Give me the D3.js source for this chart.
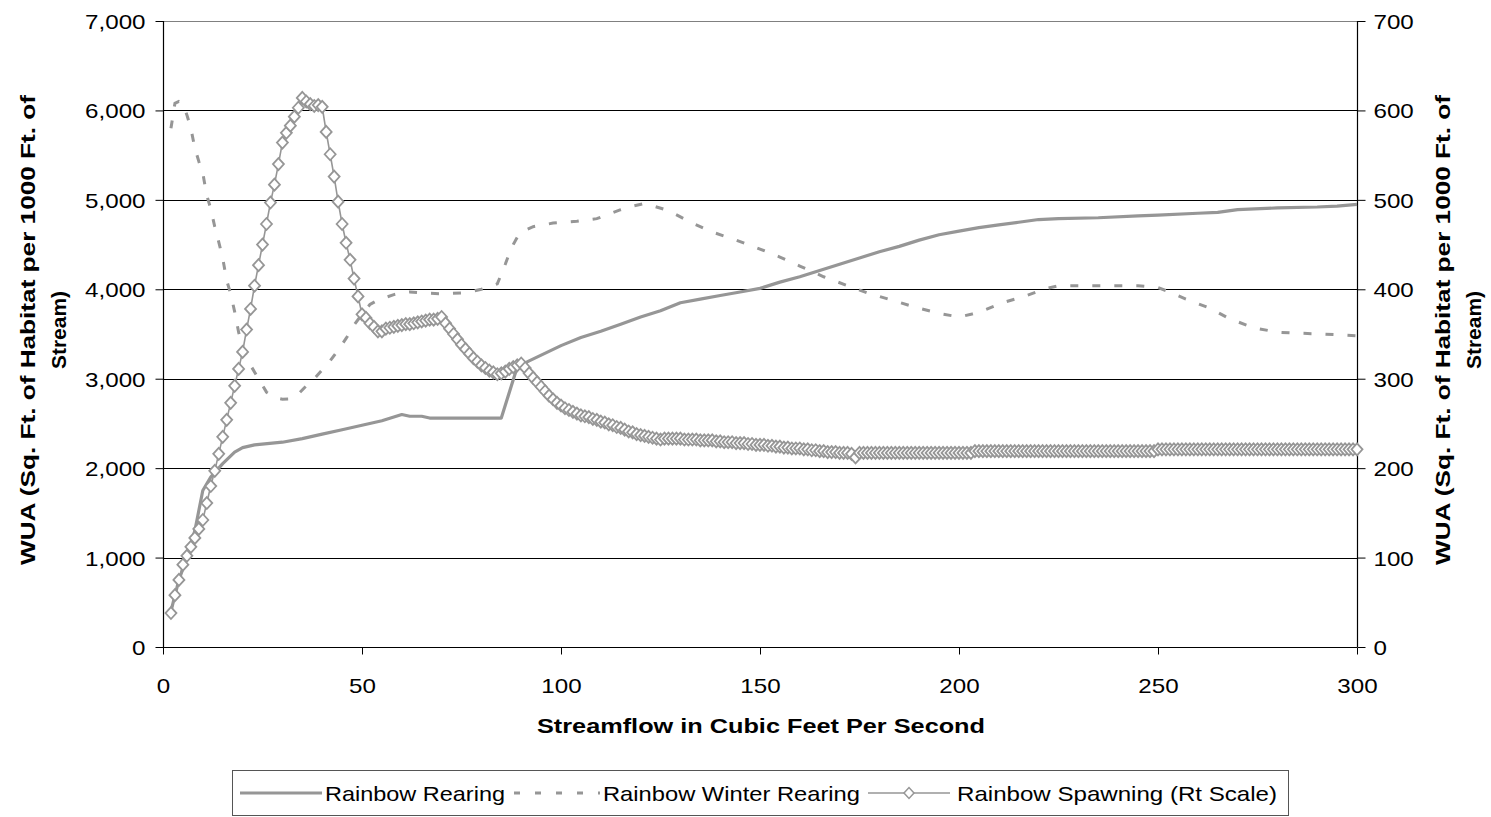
<!DOCTYPE html>
<html><head><meta charset="utf-8">
<script src="https://cdn.jsdelivr.net/npm/d3@7"></script>
<style>
body{margin:0;background:#fff}
svg{display:block}
text{font-family:"Liberation Sans",Arial,sans-serif;fill:#000}
</style>
</head><body>
<svg id="chart" width="1491" height="817"></svg>
<script>
// ---------- data ----------
const flowTicks = [0, 50, 100, 150, 200, 250, 300];
const leftTicks = [0, 1000, 2000, 3000, 4000, 5000, 6000, 7000];
const rightTicks = [0, 100, 200, 300, 400, 500, 600, 700];

const rearingFlow = [2,4,6,8,10,12,15,18,20,23,30,35,40,45,50,55,60,62,65,67,85,89,92,100,105,110,115,120,125,130,135,140,145,150,155,160,165,170,175,180,185,190,195,200,205,210,215,220,225,235,245,250,260,265,270,280,290,295,300];
const rearingWUA  = [400,750,1000,1300,1750,1900,2050,2180,2230,2260,2290,2330,2380,2430,2480,2530,2600,2580,2580,2560,2560,3130,3200,3370,3460,3530,3610,3690,3760,3850,3890,3930,3970,4010,4080,4140,4210,4280,4350,4420,4480,4550,4610,4650,4690,4720,4750,4780,4790,4800,4820,4830,4850,4860,4890,4910,4920,4930,4950];

const winterFlow = [2,3,4,5,6,7,8,9,10,11,12,13,14,15,16,17,18,19,20,22,24,26,28,30,32,34,36,38,40,42,44,46,48,50,52,54,56,58,60,62,65,70,75,78,80,82,84,86,87,88,89,90,93,98,104,109,112,115,118,121,124,127,130,133,138,144,150,155,160,166,172,177,183,189,195,200,203,206,211,217,222,225,235,245,250,254,257,263,268,274,280,285,291,296,300];
const winterWUA  = [5800,6080,6100,6080,5950,5800,5580,5430,5300,5050,4900,4700,4530,4350,4100,3950,3750,3520,3350,3150,3000,2850,2790,2770,2775,2830,2920,3000,3100,3200,3320,3450,3600,3720,3830,3880,3910,3940,3960,3970,3960,3950,3960,3980,4000,4030,4060,4280,4400,4500,4580,4640,4700,4740,4760,4790,4840,4890,4930,4960,4920,4880,4810,4740,4640,4550,4450,4360,4260,4140,4040,3960,3880,3800,3730,3690,3720,3760,3850,3930,4010,4040,4040,4040,4020,3950,3890,3790,3670,3570,3520,3510,3500,3490,3480];

// Rainbow Spawning (right scale), one value per cfs from 2 to 300
const spawnFlow = d3.range(2, 301);
const spawnWUA = [
 38,58,75,92,102,112,122,132,142,161,
 180,197,216,235,254,273,292,311,330,355,
 378,404,427,450,473,497,517,540,564,575,
 583,593,603,614,610,607,605,606,604,576,
 551,526,498,473,452,433,412,392,372,368,
 362,358,353,353,356,357,358,359,360,361,
 361,362,363,364,365,366,366,367,369,362,
 356,350,344,338,333,328,323,319,315,312,
 309,307,305,306,308,311,313,315,317,312,
 306,301,296,291,286,281,277,273,270,267,
 265,263,261,259,258,257,255,254,252,251,
 249,248,246,245,243,241,240,238,237,236,
 235,234,233,232,233,233,233,233,233,232,
 232,232,232,231,231,231,231,230,230,229,
 229,229,228,228,228,227,227,226,226,226,
 225,225,224,224,223,223,222,222,222,221,
 221,220,220,219,219,218,218,218,217,217,
 217,216,212,217,217,217,217,217,217,217,
 217,217,217,217,217,217,217,217,217,217,
 217,217,217,217,217,217,217,217,217,217,
 217,217,219,219,219,219,219,219,219,219,
 219,219,219,219,219,219,219,219,219,219,
 219,219,219,219,219,219,219,219,219,219,
 219,219,219,219,219,219,219,219,219,219,
 219,219,219,219,219,219,219,219,221,221,
 221,221,221,221,221,221,221,221,221,221,
 221,221,221,221,221,221,221,221,221,221,
 221,221,221,221,221,221,221,221,221,221,
 221,221,221,221,221,221,221,221,221,221,
 221,221,221,221,221,221,221,221,221
];

const seriesNames = ["Rainbow Rearing", "Rainbow Winter Rearing", "Rainbow Spawning (Rt Scale)"];
const xTitle = "Streamflow in Cubic Feet Per Second";
const yTitleLines = ["WUA (Sq. Ft. of Habitat per 1000 Ft. of", "Stream)"];

// ---------- layout ----------
const svg = d3.select("#chart");
const L = 163, R = 1357, T = 21, B = 647;
const gray = "#969696";
const SX = 1.15;
const FS = 21;

const x = d3.scaleLinear().domain([0, 300]).range([L, R]);
const yL = d3.scaleLinear().domain([0, 7000]).range([B, T]);
const yR = d3.scaleLinear().domain([0, 700]).range([B, T]);

// gridlines
svg.append("g").selectAll("line").data(leftTicks.filter(d => d > 0 && d < 7000)).join("line")
  .attr("x1", L).attr("x2", R)
  .attr("y1", d => Math.round(yL(d)) + 0.5).attr("y2", d => Math.round(yL(d)) + 0.5)
  .attr("stroke", "#000").attr("stroke-width", 1);
svg.append("line").attr("x1", L).attr("x2", R).attr("y1", Math.round(yL(7000)) + 0.5).attr("y2", Math.round(yL(7000)) + 0.5)
  .attr("stroke", "#808080");

function stretchText(sel) {
  sel.each(function () {
    const w = this.getComputedTextLength();
    d3.select(this).attr("textLength", w * SX).attr("lengthAdjust", "spacingAndGlyphs");
  });
}

// axes
const axL = svg.append("g").attr("transform", `translate(${L + 0.5},0)`)
  .call(d3.axisLeft(yL).tickValues(leftTicks).tickFormat(d3.format(",")).tickSize(8).tickPadding(10));
const axR = svg.append("g").attr("transform", `translate(${R + 0.5},0)`)
  .call(d3.axisRight(yR).tickValues(rightTicks).tickFormat(d3.format(",")).tickSize(8).tickPadding(8));
const axB = svg.append("g").attr("transform", `translate(0,${B + 0.5})`)
  .call(d3.axisBottom(x).tickValues(flowTicks).tickFormat(d3.format("d")).tickSize(7).tickPadding(10));

[axL, axR, axB].forEach(a => {
  a.select(".domain").attr("stroke", "#000").attr("stroke-width", 1.2);
  a.selectAll(".tick line").attr("stroke", "#000");
  a.selectAll(".tick text").attr("font-size", FS).attr("font-family", '"Liberation Sans",Arial,sans-serif').attr("fill", "#000");
});
axB.select(".domain").attr("d", `M${L},0H${R}`);
axL.select(".domain").attr("d", `M0,${B}V${T}`);
axR.select(".domain").attr("d", `M0,${B}V${T}`);
axB.selectAll(".tick text").attr("y", 45).attr("dy", 0);
axL.selectAll(".tick text").attr("dy", "0.36em");
axR.selectAll(".tick text").attr("dy", "0.36em");
stretchText(axL.selectAll(".tick text"));
stretchText(axR.selectAll(".tick text"));
stretchText(axB.selectAll(".tick text"));

// titles
svg.append("text").attr("x", 761).attr("y", 733).attr("text-anchor", "middle")
  .attr("font-size", FS).attr("font-weight", "bold")
  .attr("textLength", 448).attr("lengthAdjust", "spacingAndGlyphs").text(xTitle);

function yTitle(cx1, cx2) {
  [[cx1, yTitleLines[0], 470], [cx2, yTitleLines[1], 78]].forEach(([cx, t, len]) => {
    svg.append("text")
      .attr("transform", `translate(${cx},330) rotate(-90)`)
      .attr("text-anchor", "middle").attr("dominant-baseline", "central")
      .attr("font-size", FS).attr("font-weight", "bold")
      .attr("textLength", len).attr("lengthAdjust", "spacingAndGlyphs").text(t);
  });
}
yTitle(27, 58);
yTitle(1442, 1473);

// series
const lineL = d3.line().x(d => x(d[0])).y(d => yL(d[1]));
const lineR = d3.line().x(d => x(d[0])).y(d => yR(d[1]));

svg.append("path").datum(winterFlow.map((f, i) => [f, winterWUA[i]]))
  .attr("d", lineL).attr("fill", "none").attr("stroke", gray).attr("stroke-width", 3)
  .attr("stroke-dasharray", "8,14");

svg.append("path").datum(rearingFlow.map((f, i) => [f, rearingWUA[i]]))
  .attr("d", lineL).attr("fill", "none").attr("stroke", gray).attr("stroke-width", 3.2)
  .attr("stroke-linejoin", "round");

const spawnData = spawnFlow.map((f, i) => [f, spawnWUA[i]]);
svg.append("path").datum(spawnData)
  .attr("d", lineR).attr("fill", "none").attr("stroke", gray).attr("stroke-width", 1.6);

const diamond = (cx, cy, rx, ry) => `M${cx - rx},${cy}L${cx},${cy - ry}L${cx + rx},${cy}L${cx},${cy + ry}Z`;
svg.append("g").selectAll("path").data(spawnData).join("path")
  .attr("d", d => diamond(x(d[0]), yR(d[1]), 5.5, 6))
  .attr("fill", "#fff").attr("stroke", gray).attr("stroke-width", 1.8);

// legend
const lg = svg.append("g");
lg.append("rect").attr("x", 232.5).attr("y", 770.5).attr("width", 1056).attr("height", 45)
  .attr("fill", "#fff").attr("stroke", "#555").attr("stroke-width", 1);
const ly = 793;
lg.append("line").attr("x1", 240).attr("x2", 322).attr("y1", ly).attr("y2", ly)
  .attr("stroke", gray).attr("stroke-width", 3.2);
lg.append("line").attr("x1", 514).attr("x2", 600).attr("y1", ly).attr("y2", ly)
  .attr("stroke", gray).attr("stroke-width", 3).attr("stroke-dasharray", "6,15");
lg.append("line").attr("x1", 868).attr("x2", 950).attr("y1", ly).attr("y2", ly)
  .attr("stroke", gray).attr("stroke-width", 1.6);
lg.append("path").attr("d", diamond(909, ly, 5, 5.5)).attr("fill", "#fff").attr("stroke", gray).attr("stroke-width", 1.5);
[[325, 180], [603, 257], [957, 320]].forEach(([lx, len], i) => {
  lg.append("text").attr("x", lx).attr("y", ly).attr("dy", "0.36em")
    .attr("font-size", FS).attr("textLength", len).attr("lengthAdjust", "spacingAndGlyphs")
    .text(seriesNames[i]);
});
</script>
</body></html>
